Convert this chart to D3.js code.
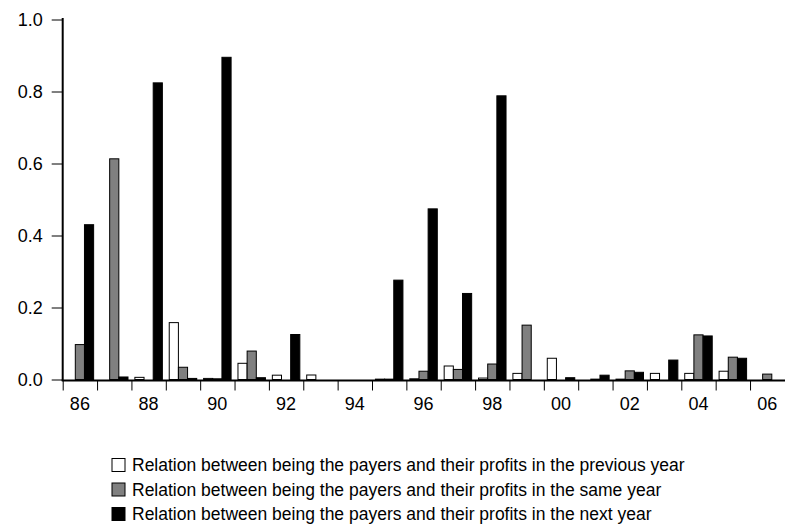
<!DOCTYPE html>
<html>
<head>
<meta charset="utf-8">
<script src="https://cdn.jsdelivr.net/npm/d3@7"></script>
<style>
  body { margin: 0; background: #fff; }
  svg { display: block; font-family: "Liberation Sans", Arial, sans-serif; }
  .axis .domain { stroke: #000; stroke-width: 2; }
  .axis .tick line { stroke: #000; stroke-width: 1; }
  .axis text { fill: #000; font-size: 18px; }
</style>
</head>
<body>
<div id="vis"></div>
<script>
const years = ['86', '87', '88', '89', '90', '91', '92', '93', '94', '95', '96',
               '97', '98', '99', '00', '01', '02', '03', '04', '05', '06'];

const previousYear = [0, 0, 0.006, 0.158, 0.003, 0.045, 0.012, 0.0125, 0, 0.001, 0.002,
                      0.0375, 0.004, 0.017, 0.059, 0, 0.001, 0.017, 0.017, 0.023, 0];
const sameYear = [0.097, 0.613, 0, 0.034, 0.002, 0.079, 0, 0, 0, 0.001, 0.023,
                  0.028, 0.043, 0.151, 0, 0.001, 0.024, 0, 0.124, 0.062, 0.015];
const nextYear = [0.43, 0.007, 0.824, 0.003, 0.895, 0.005, 0.125, 0, 0, 0.276, 0.474,
                  0.239, 0.788, 0, 0.005, 0.012, 0.02, 0.054, 0.121, 0.059, 0];

const yTicks = [0, 0.2, 0.4, 0.6, 0.8, 1.0];
const labelYears = years.filter((d, i) => i % 2 === 0);

const seriesNames = [
  'Relation between being the payers and their profits in the previous year',
  'Relation between being the payers and their profits in the same year',
  'Relation between being the payers and their profits in the next year'
];
const seriesFill = ['#ffffff', '#808080', '#000000'];

const visWidth = 785;
const visHeight = 531;

const margin = {top: 19.5, left: 62.7, right: 0.6, bottom: 151.5};
const width = visWidth - margin.left - margin.right;
const height = visHeight - margin.top - margin.bottom;

const svg = d3.select('#vis').append('svg')
    .attr('width', visWidth)
    .attr('height', visHeight);

const g = svg.append('g')
    .attr('transform', `translate(${margin.left}, ${margin.top})`);

const x = d3.scaleBand()
    .domain(years)
    .range([0, width])
    .paddingInner(0.2)
    .paddingOuter(0.1);

const xSub = d3.scaleBand()
    .domain(d3.range(3))
    .range([0, x.bandwidth()]);

const y = d3.scaleLinear()
    .domain([0, 1])
    .range([height, 0]);

const table = years.map((yr, i) => ({
  year: yr,
  values: [previousYear[i], sameYear[i], nextYear[i]]
}));

// bars
g.selectAll('.group')
  .data(table)
  .join('g')
    .attr('class', 'group')
    .attr('transform', d => `translate(${x(d.year)}, 0)`)
  .selectAll('rect')
  .data(d => d.values.map((v, k) => ({v, k})))
  .join('rect')
    .attr('x', d => xSub(d.k))
    .attr('width', xSub.bandwidth())
    .attr('y', d => y(d.v))
    .attr('height', d => height - y(d.v))
    .attr('fill', d => seriesFill[d.k])
    .attr('stroke', '#000')
    .attr('stroke-width', 1);

// y axis
g.append('g')
    .attr('class', 'axis')
    .call(d3.axisLeft(y)
      .tickValues(yTicks)
      .tickFormat(d3.format('.1f'))
      .tickSize(11)
      .tickSizeOuter(0)
      .tickPadding(9))
  .select('.domain')
    .attr('d', `M0,${height + 1.5}V-1.5`);

// x axis: tick marks at year boundaries
const xEdge = d3.scaleLinear()
    .domain([0, years.length])
    .range([0, width]);

g.append('g')
    .attr('class', 'axis')
    .attr('transform', `translate(0, ${height + 1})`)
    .call(d3.axisBottom(xEdge)
      .tickValues(d3.range(years.length))
      .tickFormat('')
      .tickSize(10)
      .tickSizeOuter(0))
  .select('.domain')
    .attr('d', `M-1,0H${width + 1}`);

// x labels every other year
g.append('g')
    .attr('class', 'axis')
    .attr('transform', `translate(0, ${height + 1})`)
    .call(d3.axisBottom(x)
      .tickValues(labelYears)
      .tickSize(0)
      .tickPadding(17))
  .call(s => s.select('.domain').remove());

// legend
const legend = svg.append('g')
    .attr('transform', 'translate(112, 0)');

const rowY = [465, 489.5, 514];

legend.selectAll('rect')
  .data(seriesNames)
  .join('rect')
    .attr('x', 0)
    .attr('y', (d, i) => rowY[i] - 6.5)
    .attr('width', 13)
    .attr('height', 13)
    .attr('fill', (d, i) => seriesFill[i])
    .attr('stroke', '#000');

legend.selectAll('text')
  .data(seriesNames)
  .join('text')
    .attr('x', 20)
    .attr('y', (d, i) => rowY[i])
    .attr('dy', '0.35em')
    .attr('font-size', 17.5)
    .attr('fill', '#000')
    .text(d => d);
</script>
</body>
</html>
